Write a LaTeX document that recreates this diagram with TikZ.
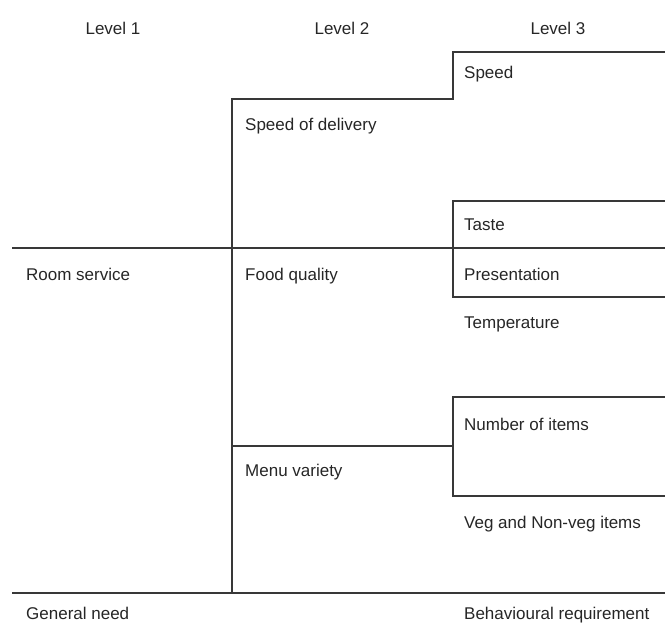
\documentclass[tikz,border=0pt]{standalone}
\usepackage{fontspec}
\setmainfont{Liberation Sans}
\begin{document}
\begin{tikzpicture}[x=1pt,y=-1pt,
  rule/.style={draw=black!78, line width=1.8pt},
  lbl/.style={anchor=base west, inner sep=0pt,
    font=\fontsize{17}{19}\selectfont, text=black!85},
  head/.style={lbl, anchor=base}]
\useasboundingbox (0,0) rectangle (665,623);

% column headers
\node[head] (lv1) at (113,35) {Level 1};
\node[head] (lv2) at (342,35) {Level 2};
\node[head] (lv3) at (558,35) {Level 3};

% hierarchy rules
\draw[rule] (665,52) -- (453,52) -- (453,99) -- (232,99) -- (232,593);
\draw[rule] (665,201) -- (453,201) -- (453,297) -- (665,297);
\draw[rule] (12,248) -- (665,248);
\draw[rule] (665,397) -- (453,397) -- (453,496) -- (665,496);
\draw[rule] (232,446) -- (453,446);
\draw[rule] (12,593) -- (665,593);

% level 1
\node[lbl] (room) at (26,281) {Room service};
\node[lbl] (gen)  at (26,619) {General need};

% level 2
\node[lbl] (sod)  at (245,131) {Speed of delivery};
\node[lbl] (food) at (245,281) {Food quality};
\node[lbl] (menu) at (245,476) {Menu variety};

% level 3
\node[lbl] (speed) at (464,79)  {Speed};
\node[lbl] (taste) at (464,231) {Taste};
\node[lbl] (pres)  at (464,281) {Presentation};
\node[lbl] (temp)  at (464,329) {Temperature};
\node[lbl] (num)   at (464,430) {Number of items};
\node[lbl] (veg)   at (464,528) {Veg and Non-veg items};
\node[lbl] (beh)   at (464,619) {Behavioural requirement};
\end{tikzpicture}
\end{document}
